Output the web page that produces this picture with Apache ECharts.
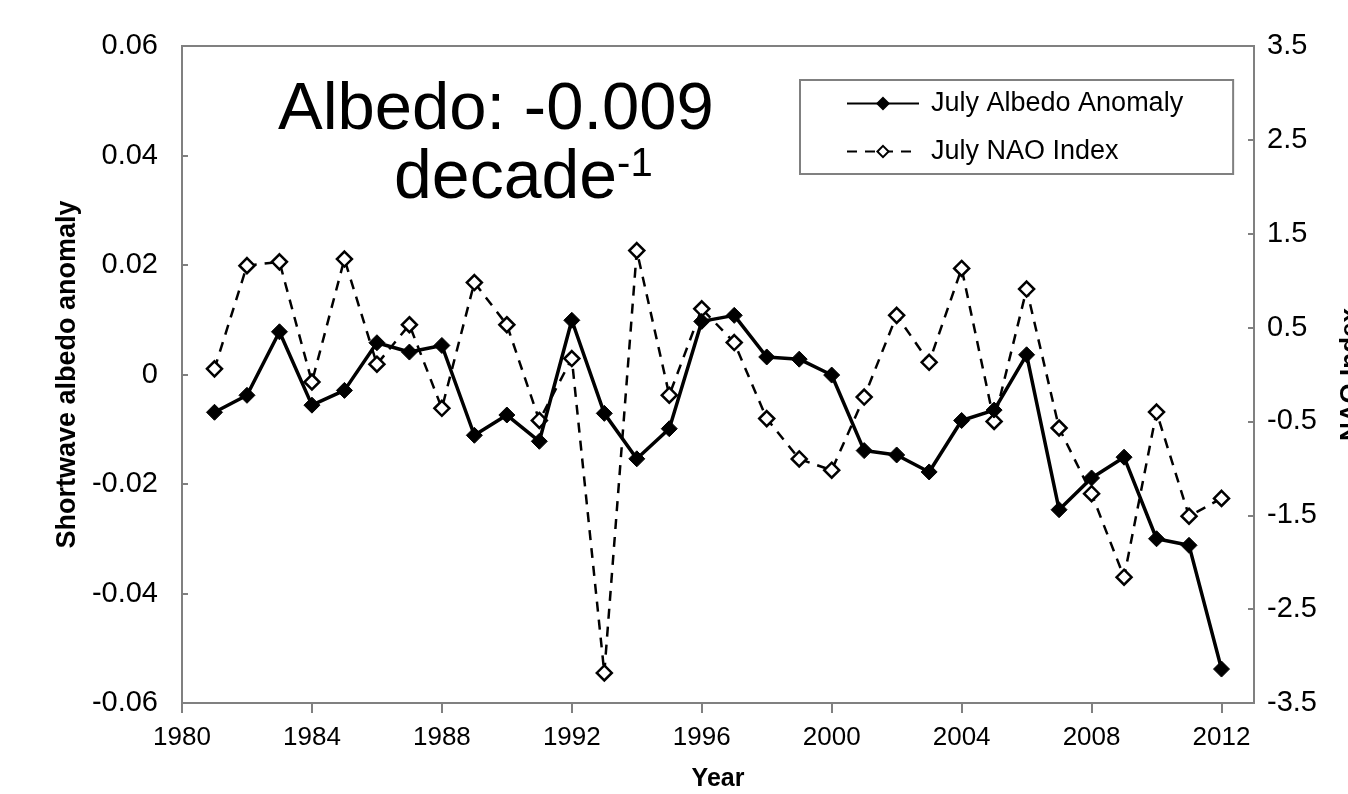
<!DOCTYPE html>
<html>
<head>
<meta charset="utf-8">
<script src="https://cdn.jsdelivr.net/npm/echarts@6/dist/echarts.min.js"></script>
<style>
html,body{margin:0;padding:0;background:#fff;}
#chart{width:1348px;height:794px;}
</style>
</head>
<body>
<div id="chart"></div>
<script>
const years = [1981,1982,1983,1984,1985,1986,1987,1988,1989,1990,1991,1992,1993,1994,1995,1996,1997,1998,1999,2000,2001,2002,2003,2004,2005,2006,2007,2008,2009,2010,2011,2012];
const albedoAnomaly = [-0.0069,-0.0038,0.0078,-0.0056,-0.0029,0.0058,0.0041,0.0053,-0.0111,-0.0074,-0.0122,0.0099,-0.0071,-0.0154,-0.0099,0.0097,0.0108,0.0032,0.0028,-0.0001,-0.0139,-0.0147,-0.0178,-0.0084,-0.0065,0.0036,-0.0247,-0.0189,-0.0151,-0.0300,-0.0312,-0.0538];
const naoIndex = [0.06,1.16,1.20,-0.08,1.23,0.11,0.53,-0.36,0.98,0.53,-0.49,0.17,-3.18,1.32,-0.22,0.70,0.34,-0.47,-0.90,-1.02,-0.24,0.63,0.13,1.13,-0.50,0.91,-0.57,-1.27,-2.16,-0.40,-1.51,-1.32];
const seriesNames = ['July Albedo Anomaly','July NAO Index'];
const axisNames = {x:'Year', left:'Shortwave albedo anomaly', right:'NAO Index'};
const annotation = ['Albedo: -0.009', 'decade', '-1'];

const FONT = '"Liberation Sans", Arial, sans-serif';
const AX = '#808080';
const chart = echarts.init(document.getElementById('chart'), null, {renderer:'canvas'});
chart.setOption({
  backgroundColor:'#fff',
  animation:false,
  grid:{left:182,right:94,top:46,bottom:91,show:true,borderColor:AX,borderWidth:2,backgroundColor:'transparent',
    containLabel:false, outerBoundsMode:'none'},
  legend:{
    orient:'vertical', left:800, top:80,
    padding:[10,50,9,46], itemGap:21, itemWidth:72, itemHeight:14,
    borderColor:AX, borderWidth:2, backgroundColor:'#fff',
    textStyle:{fontFamily:FONT,fontSize:27,color:'#000',padding:[0,0,0,7]},
    data:seriesNames
  },
  xAxis:{
    type:'value', min:1980, max:2013, interval:4,
    name:axisNames.x, nameLocation:'middle', nameGap:64,
    nameTextStyle:{fontFamily:FONT,fontSize:25,fontWeight:'bold',color:'#000'},
    axisLine:{show:true,onZero:false,lineStyle:{color:AX,width:2}},
    axisTick:{show:true,length:10,lineStyle:{color:AX,width:2}},
    axisLabel:{fontFamily:FONT,fontSize:26,color:'#000',margin:22,formatter:v=>String(v)},
    splitLine:{show:false}
  },
  yAxis:[{
    type:'value', min:-0.06, max:0.06, interval:0.02, position:'left',
    name:axisNames.left, nameLocation:'middle', nameGap:100, nameRotate:90,
    nameTextStyle:{fontFamily:FONT,fontSize:27,fontWeight:'bold',color:'#000'},
    axisLine:{show:true,lineStyle:{color:AX,width:2}},
    axisTick:{show:true,inside:true,length:6,lineStyle:{color:AX,width:2}},
    axisLabel:{fontFamily:FONT,fontSize:29,color:'#000',margin:24,
      formatter:v=>Math.abs(v)<1e-9?'0':v.toFixed(2)},
    splitLine:{show:false}
  },{
    type:'value', min:-3.5, max:3.5, interval:1, position:'right',
    name:axisNames.right, nameLocation:'middle', nameGap:84, nameRotate:90,
    nameTextStyle:{fontFamily:FONT,fontSize:26,fontWeight:'bold',color:'#000'},
    axisLine:{show:true,lineStyle:{color:AX,width:2}},
    axisTick:{show:true,inside:true,length:6,lineStyle:{color:AX,width:2}},
    axisLabel:{fontFamily:FONT,fontSize:29,color:'#000',margin:13,formatter:v=>v.toFixed(1)},
    splitLine:{show:false}
  }],
  graphic:[
    {type:'text', left:278, top:77, z:10,
      style:{text:annotation[0], font:'67px '+FONT, fill:'#000'}},
    {type:'text', left:394, top:145, z:10,
      style:{text:'{a|'+annotation[1]+'}{s|'+annotation[2]+'}', fill:'#000',
        rich:{a:{fontSize:68,fontFamily:FONT,color:'#000'},s:{fontSize:40,fontFamily:FONT,color:'#000',verticalAlign:'top',padding:[0,0,24,0]}}}}
  ],
  series:[{
    name:seriesNames[0], type:'line', yAxisIndex:0,
    data:years.map((y,i)=>[y,albedoAnomaly[i]]),
    symbol:'diamond', symbolSize:16,
    lineStyle:{color:'#000',width:3.5},
    itemStyle:{color:'#000',borderColor:'#000',borderWidth:1},
    z:3
  },{
    name:seriesNames[1], type:'line', yAxisIndex:1,
    data:years.map((y,i)=>[y,naoIndex[i]]),
    symbol:'diamond', symbolSize:15,
    lineStyle:{color:'#000',width:2.5,type:[10,8]},
    itemStyle:{color:'#fff',borderColor:'#000',borderWidth:2.5},
    z:2
  }]
});
</script>
</body>
</html>
